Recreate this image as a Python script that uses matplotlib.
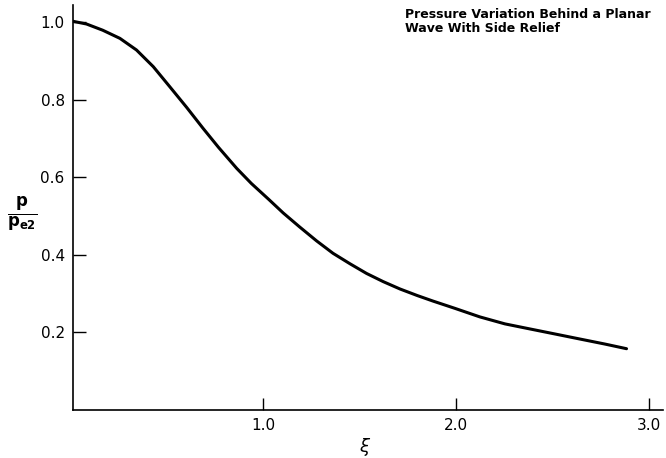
import numpy as np
import matplotlib
matplotlib.use('Agg')
import matplotlib.pyplot as plt

# valores (xi, p/p_e2)
xi = [0.016, 0.086, 0.17, 0.259, 0.345, 0.432, 0.518, 0.605, 0.69, 0.77,
      0.864, 0.94, 1.03, 1.105, 1.19, 1.278, 1.363, 1.451, 1.537, 1.623,
      1.71, 1.80, 1.88, 1.995, 2.124, 2.254, 2.383, 2.513, 2.642, 2.772,
      2.884]
pressao = [1.002, 0.995, 0.979, 0.958, 0.928, 0.885, 0.833, 0.780, 0.726,
           0.677, 0.623, 0.584, 0.543, 0.508, 0.472, 0.436, 0.404, 0.377,
           0.352, 0.331, 0.312, 0.295, 0.281, 0.262, 0.240, 0.222, 0.209,
           0.196, 0.183, 0.170, 0.158]

xticks = [1.0, 2.0, 3.0]
yticks = [0.2, 0.4, 0.6, 0.8, 1.0]
titulo = 'Pressure Variation Behind a Planar\nWave With Side Relief'

fig = plt.figure(figsize=(6.66, 4.58), dpi=100)
ax = fig.add_axes([73 / 666, 48 / 458, 590 / 666, 405 / 458])

ax.plot(xi, pressao, color='black', linewidth=2.2, solid_capstyle='round',
        solid_joinstyle='round')

ax.set_xlim(0.016, 0.016 + 590 / 193)
ax.set_ylim(0, 1.044)
ax.spines['top'].set_visible(False)
ax.spines['right'].set_visible(False)
ax.spines['left'].set_linewidth(1.2)
ax.spines['bottom'].set_linewidth(1.2)

ax.set_xticks(xticks)
ax.set_xticklabels(['1.0', '2.0', '3.0'])
ax.set_yticks(yticks)
ax.set_yticklabels(['0.2', '0.4', '0.6', '0.8', '1.0'])
ax.tick_params(direction='in', length=9, width=1, labelsize=11, pad=6)

fig.text(405 / 666, 1 - 8 / 458, titulo, fontsize=9, fontweight='bold',
         ha='left', va='top', linespacing=1.15)
fig.text(365 / 666, 1 - 447 / 458, r'$\xi$', fontsize=13, ha='center', va='center')
fig.text(22 / 666, 1 - 214 / 458, r'$\frac{\mathbf{p}}{\mathbf{p_{e2}}}$',
         fontsize=17, ha='center', va='center')

plt.savefig('out.png', dpi=100)
